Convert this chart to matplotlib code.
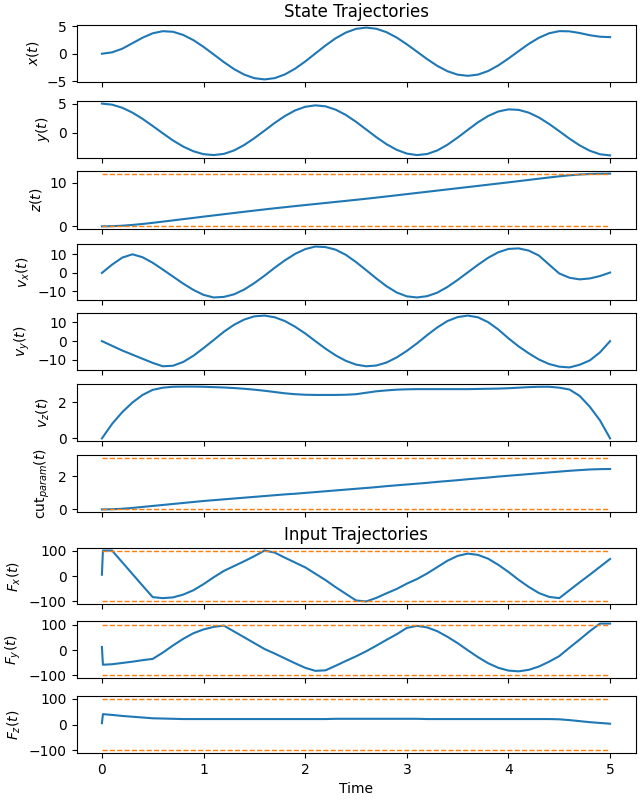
import numpy as np
import matplotlib
matplotlib.use('Agg')
import matplotlib.pyplot as plt

# time grid of the states, inputs have one extra knot right after t=0
t = np.round(np.linspace(0, 5, 51), 2)
t_in = np.concatenate([[0.0, 0.01], t[1:]])

x_pos = [0, 0.25, 0.9, 1.9, 2.9, 3.7, 4.08, 3.97, 3.4, 2.46, 1.24, -0.13, -1.52, -2.78, -3.78, -4.43,
         -4.65, -4.42, -3.75, -2.72, -1.41, 0.04, 1.49, 2.8, 3.83, 4.5, 4.73, 4.52, 3.9, 2.93, 1.71,
         0.37, -0.98, -2.2, -3.17, -3.79, -4.0, -3.78, -3.13, -2.12, -0.87, 0.47, 1.78, 2.89, 3.7,
         4.09, 4.05, 3.75, 3.35, 3.08, 3.0]
y_pos = [5.0, 4.82, 4.29, 3.46, 2.39, 1.17, -0.09, -1.31, -2.35, -3.15, -3.65, -3.8, -3.6, -3.01,
         -2.08, -0.91, 0.38, 1.69, 2.87, 3.83, 4.45, 4.7, 4.53, 3.96, 3.06, 1.89, 0.58, -0.74, -1.94,
         -2.9, -3.55, -3.8, -3.62, -3.01, -2.03, -0.81, 0.51, 1.8, 2.88, 3.65, 4.01, 3.93, 3.45,
         2.62, 1.52, 0.28, -0.99, -2.14, -3.06, -3.66, -3.86]
z_pos = [0, 0.04, 0.15, 0.33, 0.55, 0.81, 1.09, 1.37, 1.66, 1.94, 2.23, 2.51, 2.79, 3.07, 3.35,
         3.62, 3.89, 4.15, 4.4, 4.65, 4.89, 5.13, 5.37, 5.61, 5.85, 6.09, 6.34, 6.6, 6.86, 7.13,
         7.4, 7.67, 7.94, 8.21, 8.48, 8.75, 9.02, 9.29, 9.56, 9.83, 10.1, 10.38, 10.66, 10.94,
         11.22, 11.48, 11.72, 11.9, 12.02, 12.08, 12.1]
vx = [0, 4.5, 8.3, 10.1, 8.5, 5.5, 1.8, -2.0, -5.8, -9.2, -11.9, -13.3, -13.0, -11.6, -9.0, -5.5,
      -1.5, 2.8, 6.8, 10.3, 12.9, 14.3, 14.0, 12.6, 9.8, 5.9, 1.5, -3.0, -7.2, -10.6, -12.7,
      -13.3, -12.6, -10.7, -7.6, -3.8, 0.3, 4.4, 8.2, 11.2, 13.0, 13.3, 12.1, 9.4, 4.5, -0.3,
      -2.6, -3.5, -3.0, -1.7, 0.2]
vy = [0, -2.5, -5.0, -7.2, -9.4, -11.6, -13.4, -13.1, -11.1, -7.8, -3.7, 0.6, 5.0, 8.7, 11.5,
      13.2, 13.6, 12.7, 10.7, 7.7, 4.1, 0, -4.0, -7.6, -10.5, -12.5, -13.4, -13.0, -11.4, -8.7,
      -5.2, -1.2, 3.2, 7.3, 10.7, 12.8, 13.6, 12.7, 10.1, 6.2, 1.5, -2.8, -6.5, -9.8, -12.2,
      -13.6, -14.0, -12.6, -10.3, -6.0, 0]
vz = [0, 0.8, 1.45, 1.98, 2.4, 2.68, 2.8, 2.85, 2.86, 2.86, 2.85, 2.83, 2.81, 2.78, 2.74, 2.69,
      2.63, 2.56, 2.49, 2.44, 2.41, 2.4, 2.4, 2.4, 2.41, 2.44, 2.52, 2.6, 2.65, 2.69, 2.71,
      2.72, 2.72, 2.72, 2.72, 2.72, 2.72, 2.73, 2.74, 2.75, 2.77, 2.8, 2.83, 2.85, 2.85, 2.8,
      2.7, 2.35, 1.75, 1.0, 0]
cut_param = [0, 0.01, 0.04, 0.09, 0.15, 0.21, 0.27, 0.33, 0.39, 0.45, 0.51, 0.56, 0.61, 0.66,
             0.71, 0.76, 0.81, 0.86, 0.91, 0.95, 1.0, 1.05, 1.1, 1.15, 1.2, 1.25, 1.3, 1.35,
             1.41, 1.46, 1.51, 1.56, 1.61, 1.67, 1.72, 1.77, 1.83, 1.88, 1.93, 1.99, 2.04,
             2.09, 2.14, 2.19, 2.24, 2.29, 2.34, 2.38, 2.42, 2.44, 2.45]

Fx = [5, 100, 100, 54, 8, -38, -83, -87, -84, -73, -56, -32, -5, 20, 39, 58, 78, 100, 92, 72,
      53, 34, 9, -16, -44, -70, -96, -100, -86, -68, -51, -30, -12, 10, 35, 60, 79, 88, 83,
      68, 44, 16, -15, -43, -67, -82, -87, -56, -25, 5, 36, 67]
Fy = [12, -58, -56, -51, -46, -40, -35, -10, 18, 44, 66, 81, 91, 96, 73, 50, 27, 4, -14, -33,
      -52, -70, -82, -80, -62, -43, -25, -5, 17, 40, 62, 87, 95, 89, 74, 52, 27, -1, -28, -52,
      -70, -81, -84, -78, -65, -46, -24, 9, 41, 74, 104, 104]
Fz = [5, 40, 37, 33, 30, 27, 24, 23, 22, 21, 21, 21, 21, 21, 21, 21, 21, 21, 21, 21, 21, 21, 21,
      21, 22, 22, 22, 22, 22, 22, 22, 22, 22, 21, 21, 21, 21, 21, 21, 21, 21, 21, 21, 21, 21,
      21, 20, 17, 13, 9, 6, 3]

# bounds drawn as dashed lines
z_bounds = [0, 12]
cut_bounds = [0, 3.14]
F_bounds = [-100, 100]

state_labels = ['$x(t)$', '$y(t)$', '$z(t)$', '$v_x(t)$', '$v_y(t)$', '$v_z(t)$',
                'cut$_{param}(t)$']
input_labels = ['$F_x(t)$', '$F_y(t)$', '$F_z(t)$']

states = [x_pos, y_pos, z_pos, vx, vy, vz, cut_param]
inputs = [Fx, Fy, Fz]
state_bounds = [None, None, z_bounds, None, None, None, cut_bounds]

rows = [(25, 82), (101, 158), (171, 229), (244, 300), (313, 370), (384, 441), (455, 512),
        (548, 604), (621, 678), (696, 753)]
left_px, right_px = 76.5, 635.5

fig = plt.figure(figsize=(6.4, 8), dpi=100)
axes = []
for i, (top, bot) in enumerate(rows):
    ax = fig.add_axes([left_px / 640, 1 - bot / 800, (right_px - left_px) / 640, (bot - top) / 800],
                      sharex=axes[0] if axes else None)
    axes.append(ax)

for ax, vals, lab, bnd in zip(axes[:7], states, state_labels, state_bounds):
    ax.plot(t, vals, color='C0')
    if bnd is not None:
        for b in bnd:
            ax.plot([t[0], t[-1]], [b, b], '--', color='C1', lw=1)
    ax.set_ylabel(lab)

for ax, vals, lab in zip(axes[7:], inputs, input_labels):
    ax.plot(t_in, vals, color='C0')
    for b in F_bounds:
        ax.plot([t[0], t[-1]], [b, b], '--', color='C1', lw=1)
    ax.set_ylabel(lab)

for ax in axes[:-1]:
    ax.tick_params(labelbottom=False)

axes[1].set_yticks([0, 5])
axes[0].set_title('State Trajectories')
axes[7].set_title('Input Trajectories')
axes[-1].set_xlabel('Time')

fig.savefig('out.png', dpi=100)
